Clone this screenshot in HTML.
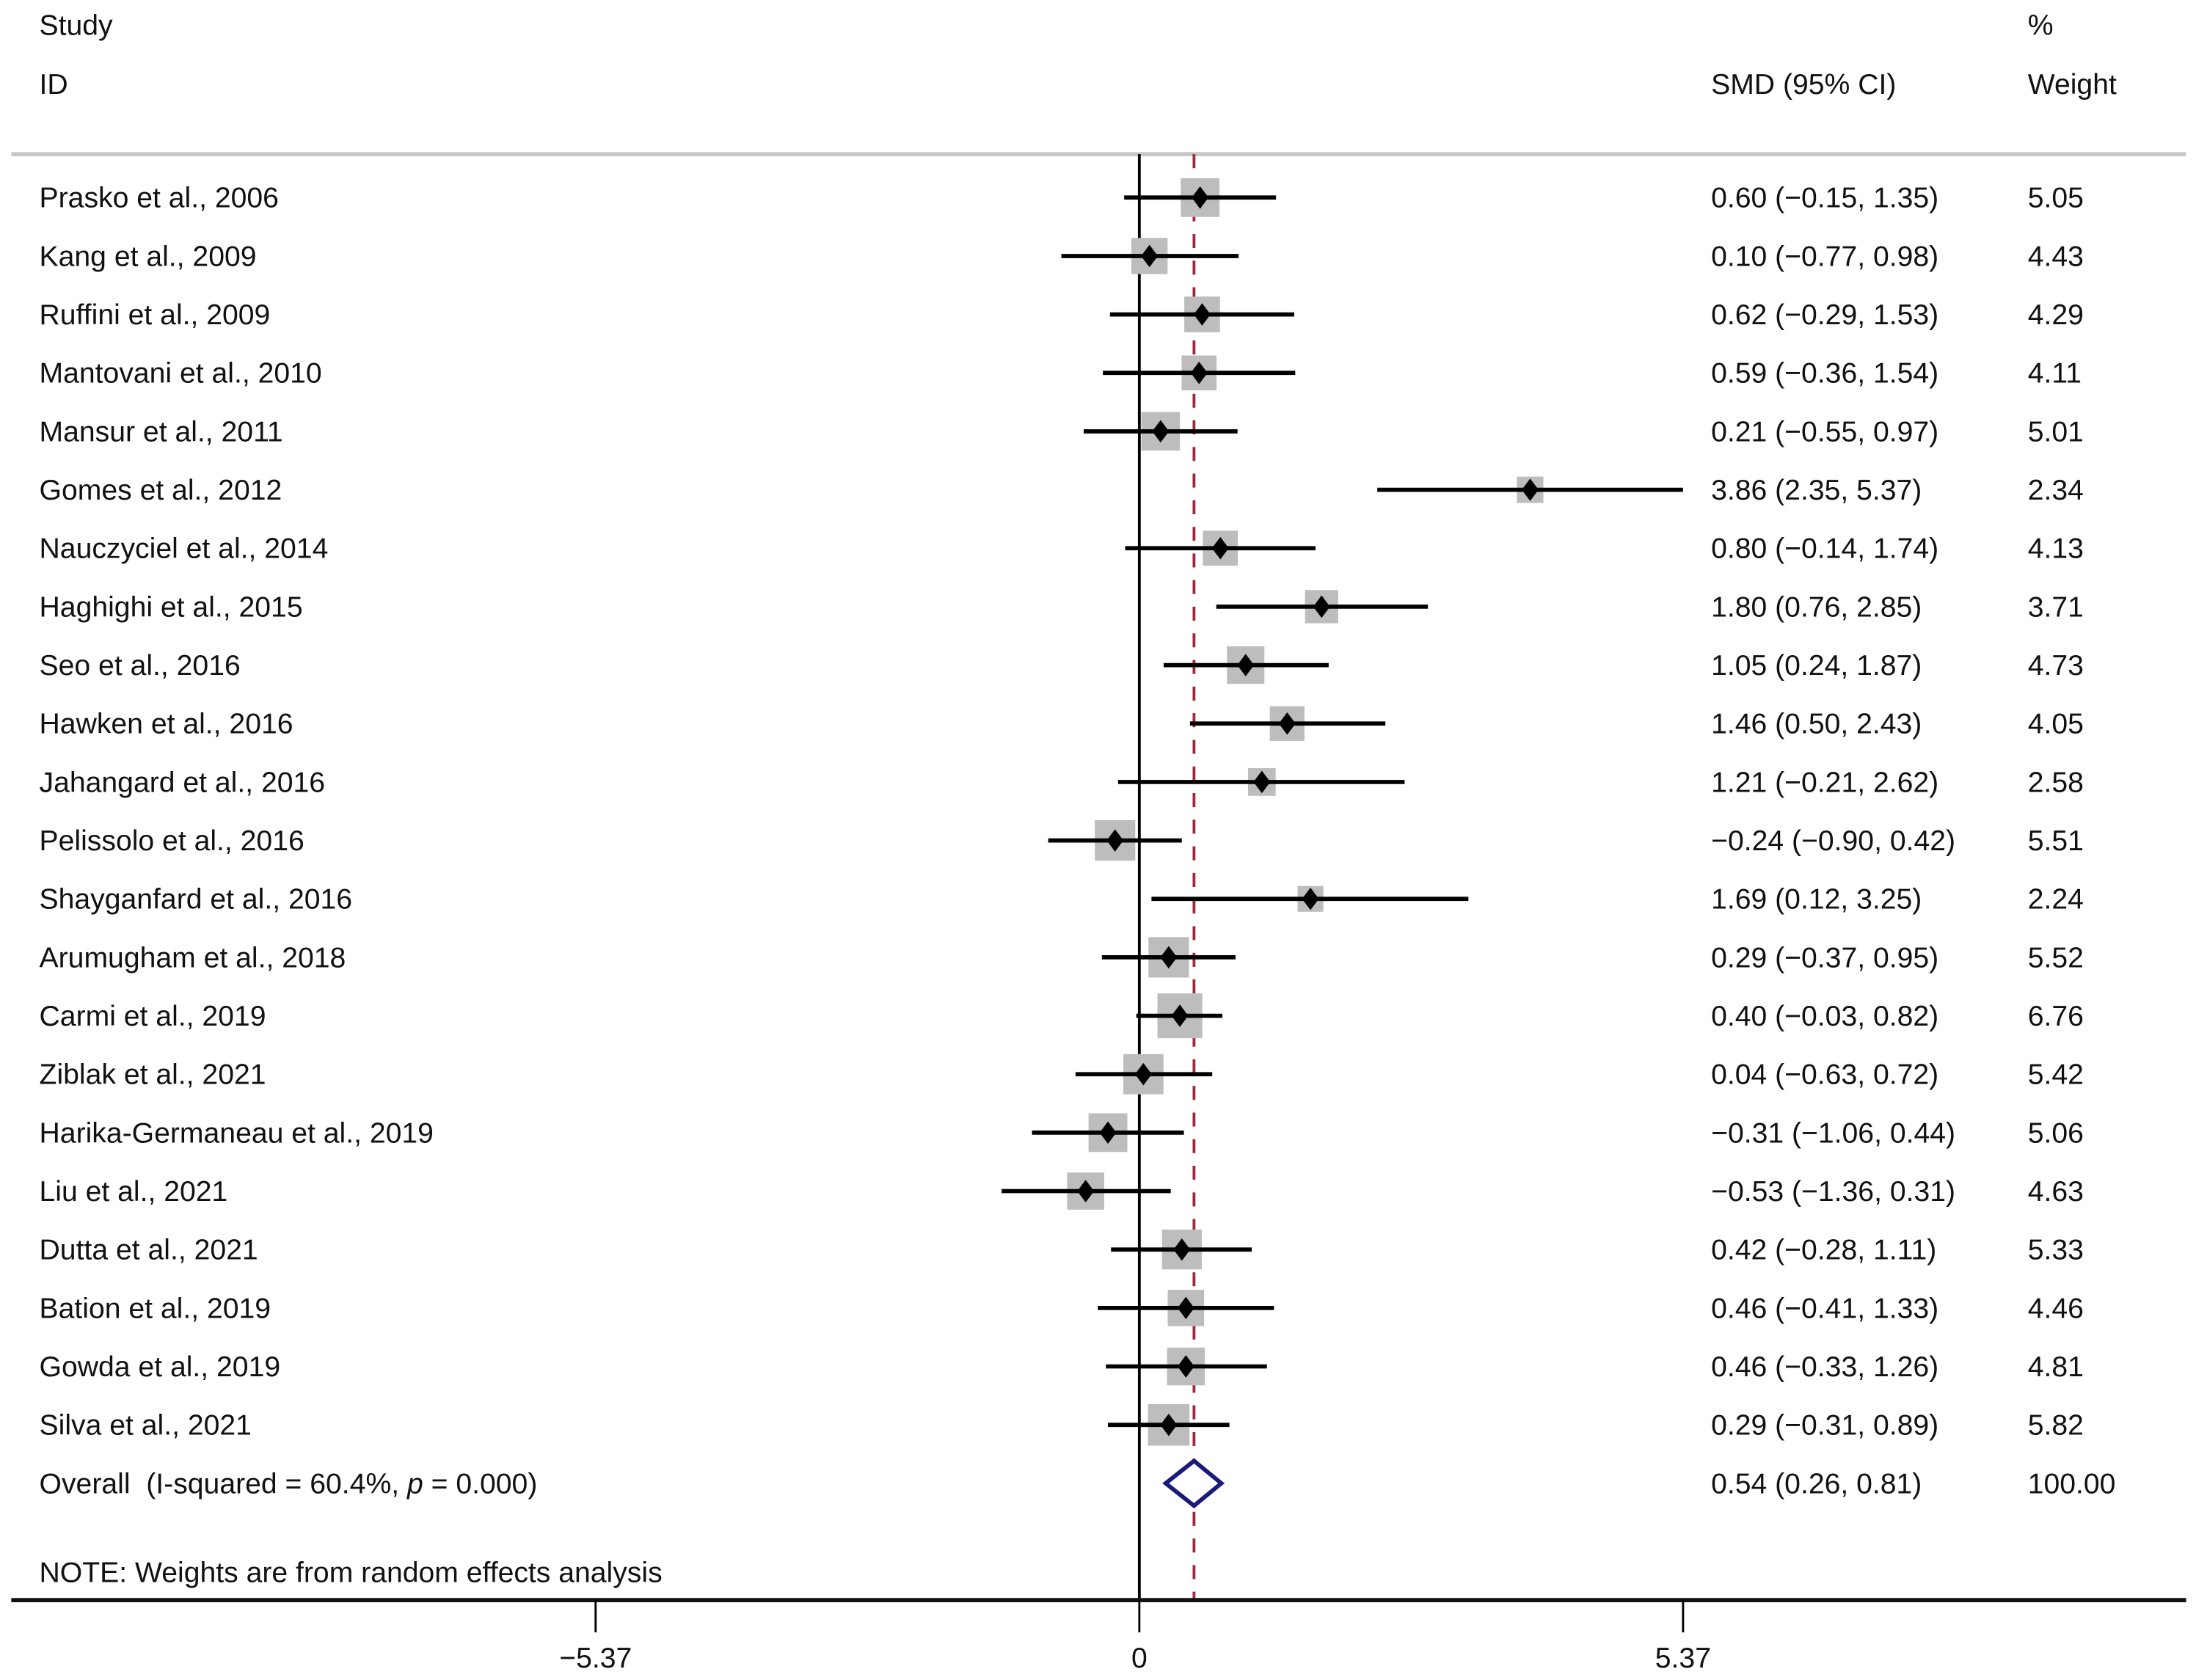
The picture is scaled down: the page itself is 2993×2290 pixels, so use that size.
<!DOCTYPE html>
<html><head><meta charset="utf-8"><style>
html,body{margin:0;padding:0;background:#fff}
svg{display:block}
text{font-family:"Liberation Sans",Arial,sans-serif;font-size:20.5px;fill:#111}
</style></head><body>
<svg id="chart" width="2993" height="2290" viewBox="0 0 1567 1199" xmlns="http://www.w3.org/2000/svg">
<g id="static">
<text x="28" y="25">Study</text>
<text x="28" y="67">ID</text>
<text x="1221" y="67">SMD (95% CI)</text>
<text x="1447" y="25">%</text>
<text x="1447" y="67">Weight</text>
<line x1="8" y1="110" x2="1560" y2="110" stroke="#c8c8c8" stroke-width="3"/>
<text x="28" y="1129">NOTE: Weights are from random effects analysis</text>
</g>
<g id="marks"></g>
</svg>
<script>
const studies=["Prasko et al., 2006","Kang et al., 2009","Ruffini et al., 2009","Mantovani et al., 2010","Mansur et al., 2011","Gomes et al., 2012","Nauczyciel et al., 2014","Haghighi et al., 2015","Seo et al., 2016","Hawken et al., 2016","Jahangard et al., 2016","Pelissolo et al., 2016","Shayganfard et al., 2016","Arumugham et al., 2018","Carmi et al., 2019","Ziblak et al., 2021","Harika-Germaneau et al., 2019","Liu et al., 2021","Dutta et al., 2021","Bation et al., 2019","Gowda et al., 2019","Silva et al., 2021"];
const smd=[0.60,0.10,0.62,0.59,0.21,3.86,0.80,1.80,1.05,1.46,1.21,-0.24,1.69,0.29,0.40,0.04,-0.31,-0.53,0.42,0.46,0.46,0.29];
const lower=[-0.15,-0.77,-0.29,-0.36,-0.55,2.35,-0.14,0.76,0.24,0.50,-0.21,-0.90,0.12,-0.37,-0.03,-0.63,-1.06,-1.36,-0.28,-0.41,-0.33,-0.31];
const upper=[1.35,0.98,1.53,1.54,0.97,5.37,1.74,2.85,1.87,2.43,2.62,0.42,3.25,0.95,0.82,0.72,0.44,0.31,1.11,1.33,1.26,0.89];
const weights=[5.05,4.43,4.29,4.11,5.01,2.34,4.13,3.71,4.73,4.05,2.58,5.51,2.24,5.52,6.76,5.42,5.06,4.63,5.33,4.46,4.81,5.82];
const overall=[0.54,0.26,0.81];
const ticks=[-5.37,0,5.37];
const tickLabels=["\u22125.37","0","5.37"];

const NS="http://www.w3.org/2000/svg";
const g=document.getElementById('marks');
const X=v=>813+v*(388/5.37);
const Y=i=>141+i*41.71;
const fmt=v=>(v<0?"\u2212":"")+Math.abs(v).toFixed(2);
function mk(tag,attrs,parent){const e=document.createElementNS(NS,tag);for(const k in attrs)e.setAttribute(k,attrs[k]);(parent||g).appendChild(e);return e;}

let zl=mk('line',{x1:X(0),y1:110,x2:X(0),y2:1142,stroke:'#000','stroke-width':2});


let dl=mk('line',{x1:X(overall[0]),y1:110,x2:X(overall[0]),y2:1142,stroke:'#a0283c','stroke-width':2,'stroke-dasharray':'10 9'});



studies.forEach((s,i)=>{
  const y=Y(i);
  const t=mk('text',{x:28,y:y+7});t.textContent=s;
  
  
  const side=12.3*Math.sqrt(weights[i]);
  const b=mk('rect',{x:X(smd[i])-side/2,y:y-side/2,width:side,height:side,fill:'#bdbdbd'});
  
  
  const l=mk('line',{x1:X(lower[i]),y1:y,x2:X(upper[i]),y2:y,stroke:'#000','stroke-width':3});
  
  
  const cx=X(smd[i]);
  const d=mk('polygon',{points:`${cx-6},${y} ${cx},${y-8} ${cx+6},${y} ${cx},${y+8}`,fill:'#000'});
  
  
  const c=mk('text',{x:1221,y:y+7});c.textContent=`${fmt(smd[i])} (${fmt(lower[i])}, ${fmt(upper[i])})`;
  
  
  const w=mk('text',{x:1447,y:y+7});w.textContent=weights[i].toFixed(2);
  
  
});

const yo=Y(studies.length);
const ol=mk('text',{x:28,y:yo+7});
ol.innerHTML='Overall&#160;&#160;(I-squared = 60.4%, <tspan font-style="italic">p</tspan> = 0.000)';


const od=mk('polygon',{points:`${X(overall[1])},${yo} ${X(overall[0])},${yo-16} ${X(overall[2])},${yo} ${X(overall[0])},${yo+16}`,fill:'#fff',stroke:'#1a1a7a','stroke-width':3});


const ov=mk('text',{x:1221,y:yo+7});ov.textContent=`${fmt(overall[0])} (${fmt(overall[1])}, ${fmt(overall[2])})`;


const ow=mk('text',{x:1447,y:yo+7});ow.textContent="100.00";



const ax=mk('line',{x1:8,y1:1142,x2:1560,y2:1142,stroke:'#111','stroke-width':3});


ticks.forEach((v,i)=>{
  const tk=mk('line',{x1:X(v),y1:1142,x2:X(v),y2:1165,stroke:'#000','stroke-width':1.5});
  
  
  const tl=mk('text',{x:X(v),y:1190,'text-anchor':'middle'});tl.textContent=tickLabels[i];
  
  
});
</script>
</body></html>
